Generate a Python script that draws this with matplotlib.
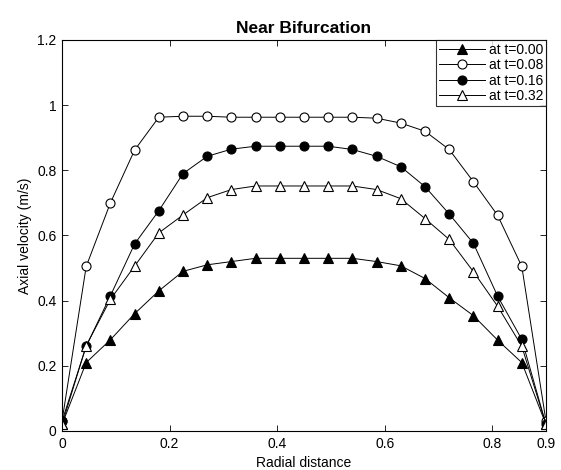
import numpy as np
import matplotlib
matplotlib.use('Agg')
import matplotlib.pyplot as plt

# radial positions (21 samples from 0 to 0.9)
radial = [0.0, 0.045, 0.09, 0.135, 0.18, 0.225, 0.27, 0.315, 0.36, 0.405, 0.45,
          0.495, 0.54, 0.585, 0.63, 0.675, 0.72, 0.765, 0.81, 0.855, 0.9]

# axial velocity profiles
v_t000 = [0.02, 0.21, 0.28, 0.36, 0.43, 0.49, 0.51, 0.52, 0.53, 0.53, 0.53,
          0.53, 0.53, 0.52, 0.507, 0.468, 0.409, 0.354, 0.279, 0.21, 0.02]
v_t008 = [0.03, 0.505, 0.70, 0.862, 0.963, 0.966, 0.966, 0.963, 0.963, 0.963, 0.963,
          0.963, 0.963, 0.96, 0.945, 0.92, 0.864, 0.765, 0.662, 0.505, 0.03]
v_t016 = [0.03, 0.26, 0.415, 0.574, 0.676, 0.79, 0.843, 0.865, 0.874, 0.874, 0.874,
          0.874, 0.864, 0.843, 0.811, 0.75, 0.666, 0.576, 0.414, 0.281, 0.02]
v_t032 = [0.02, 0.262, 0.404, 0.506, 0.608, 0.663, 0.716, 0.741, 0.752, 0.752, 0.752,
          0.752, 0.752, 0.741, 0.713, 0.652, 0.588, 0.489, 0.383, 0.26, 0.02]

labels = ['at t=0.00', 'at t=0.08', 'at t=0.16', 'at t=0.32']
xticks = [0, 0.2, 0.4, 0.6, 0.8, 0.9]
yticks = [0, 0.2, 0.4, 0.6, 0.8, 1.0, 1.2]

plt.rcParams['font.family'] = ['Liberation Sans', 'DejaVu Sans']
plt.rcParams['font.size'] = 10

fig = plt.figure(figsize=(5.61, 4.70), dpi=100)
ax = fig.add_axes([62 / 561, 1 - 431 / 470, 484 / 561, 391 / 470])

style = dict(color='black', linewidth=0.7, markersize=6.5, markeredgewidth=0.8)
ax.plot(radial, v_t000, marker='^', markerfacecolor='black', label=labels[0], **style)
ax.plot(radial, v_t008, marker='o', markerfacecolor='white', label=labels[1], **style)
ax.plot(radial, v_t016, marker='o', markerfacecolor='black', label=labels[2], **style)
ax.plot(radial, v_t032, marker='^', markerfacecolor='white', label=labels[3], **style)

ax.set_xlim(0, 0.9)
ax.set_ylim(0, 1.2)
ax.set_xticks(xticks)
ax.set_xticklabels(['0', '0.2', '0.4', '0.6', '0.8', '0.9'])
ax.set_yticks(yticks)
ax.set_yticklabels(['0', '0.2', '0.4', '0.6', '0.8', '1', '1.2'])
ax.tick_params(direction='in', top=True, right=True, length=4, width=0.6, pad=4)
for s in ax.spines.values():
    s.set_linewidth(0.8)

ax.set_xlabel('Radial distance', labelpad=4)
ax.set_ylabel('Axial velocity (m/s)', labelpad=4)
ax.set_title('Near Bifurcation', fontsize=12.5, fontweight='bold', pad=5)

leg = ax.legend(loc='upper right', fontsize=10, frameon=True, fancybox=False,
                borderaxespad=0, handlelength=3.3, handletextpad=0.3,
                labelspacing=0.1, borderpad=0.2)
leg.get_frame().set_edgecolor('black')
leg.get_frame().set_linewidth(0.8)

fig.savefig('out.png', dpi=100)
